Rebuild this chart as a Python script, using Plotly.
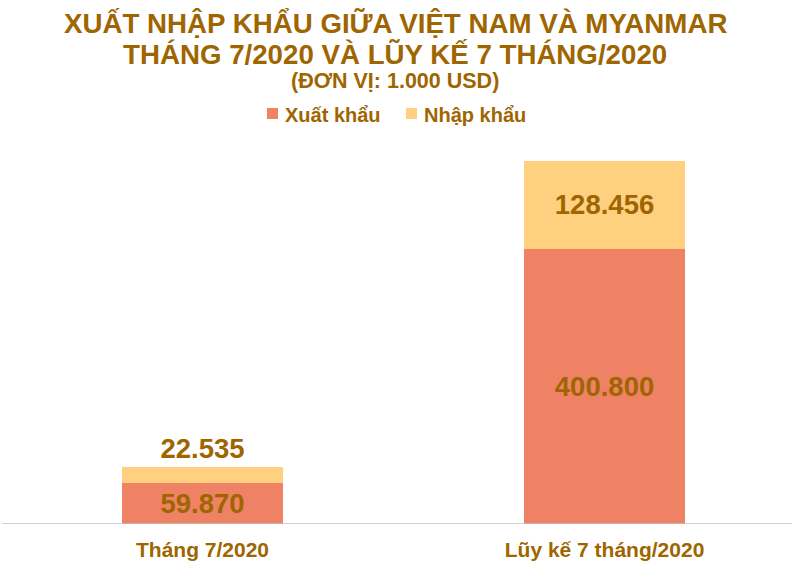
import plotly.graph_objects as go

categories = ["Tháng 7/2020", "Lũy kế 7 tháng/2020"]
series_names = ["Xuất khẩu", "Nhập khẩu"]
xuat_khau = [59870, 400800]
nhap_khau = [22535, 128456]
title_lines = ["XUẤT NHẬP KHẨU GIỮA VIỆT NAM VÀ MYANMAR",
               "THÁNG 7/2020 VÀ LŨY KẾ 7 THÁNG/2020",
               "(ĐƠN VỊ: 1.000 USD)"]

GOLD = "#9E6500"
COLORS = ["#EF8265", "#FFD07F"]
FONT = "Liberation Sans, Arial, sans-serif"
W, H = 792, 571
ML, MR, MT, MB = 2, 2, 135, 47
PW, PH = W - ML - MR, H - MT - MB


def px_x(p):
    return (p - ML) / PW


def px_y(p):
    return (H - MB - p) / PH


xpos = list(range(len(categories)))

fig = go.Figure()
fig.add_trace(go.Bar(
    x=xpos, y=xuat_khau, name=series_names[0],
    marker=dict(color=COLORS[0], line=dict(width=0)),
    width=0.4005,
    texttemplate="<b>%{y:,.0f}</b>", textposition="inside",
    insidetextanchor="middle",
    textfont=dict(family=FONT, size=27.5, color=GOLD),
    constraintext="none", showlegend=False,
))
fig.add_trace(go.Bar(
    x=xpos, y=nhap_khau, name=series_names[1],
    marker=dict(color=COLORS[1], line=dict(width=0)),
    width=0.4005,
    texttemplate="<b>%{y:,.0f}</b>", textposition=["outside", "inside"],
    insidetextanchor="middle",
    textfont=dict(family=FONT, size=27.5, color=GOLD),
    constraintext="none", cliponaxis=False, showlegend=False,
))

annotations = []
title_specs = [(title_lines[0], 27.7, 23), (title_lines[1], 27.7, 54), (title_lines[2], 21.5, 81)]
for txt, sz, cy in title_specs:
    annotations.append(dict(
        text="<b>%s</b>" % txt, xref="paper", yref="paper", x=px_x(395), y=px_y(cy),
        xanchor="center", yanchor="middle", showarrow=False,
        font=dict(family=FONT, size=sz, color=GOLD)))

# custom legend (square swatch + label)
legend_marker_x = [267, 406]
shapes = []
for name, col, mx in zip(series_names, COLORS, legend_marker_x):
    shapes.append(dict(type="rect", xref="paper", yref="paper",
                       x0=px_x(mx), x1=px_x(mx + 11), y0=px_y(119), y1=px_y(108),
                       fillcolor=col, line=dict(width=0)))
    annotations.append(dict(
        text="<b>%s</b>" % name, xref="paper", yref="paper", x=px_x(mx + 16), y=px_y(115),
        xanchor="left", yanchor="middle", showarrow=False,
        font=dict(family=FONT, size=20, color=GOLD)))

shapes.append(dict(type="line", xref="paper", yref="y", x0=0, x1=1.01, y0=0, y1=0,
                   line=dict(color="#BFBFBF", width=1.5)))

fig.update_layout(
    barmode="stack",
    separators=",.",
    width=W, height=H,
    margin=dict(l=ML, r=MR, t=MT, b=MB),
    paper_bgcolor="white", plot_bgcolor="white",
    font=dict(family=FONT, color=GOLD),
    showlegend=False,
    hovermode=False,
    xaxis=dict(
        range=[-0.4988, 1.4614], tickvals=xpos, ticktext=["<b>%s</b>" % c for c in categories],
        tickfont=dict(family=FONT, size=21, color=GOLD),
        showgrid=False, zeroline=False, showline=False, ticks="", ticklabelstandoff=11,
    ),
    yaxis=dict(range=[0, 567055], visible=False, showgrid=False),
    shapes=shapes,
    annotations=annotations,
)

fig.write_html("out.html", config={"displayModeBar": False},
               post_script="document.body.style.margin='0';document.body.style.padding='0';")
